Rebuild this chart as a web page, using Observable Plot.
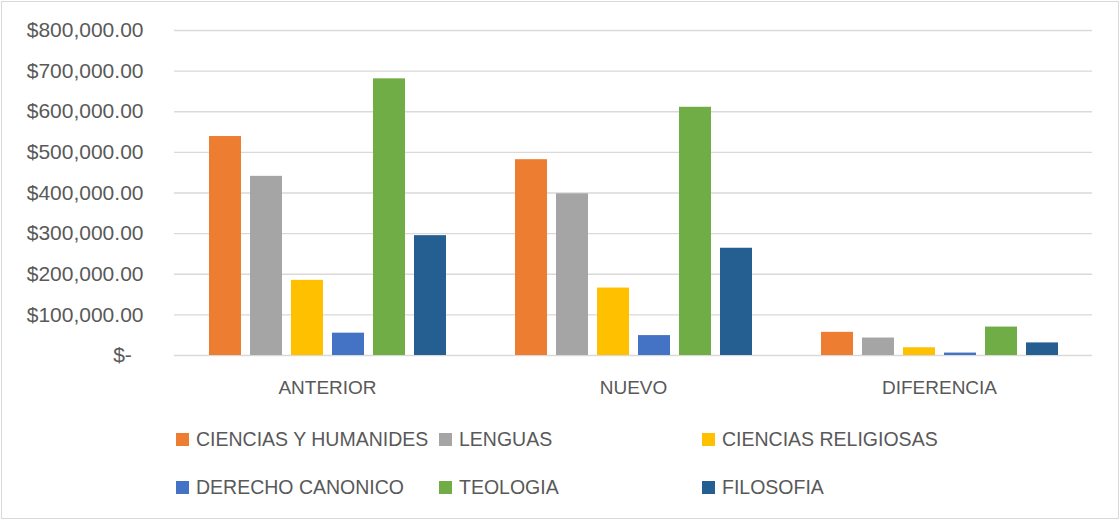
<!DOCTYPE html>
<html>
<head>
<meta charset="utf-8">
<script src="https://cdn.jsdelivr.net/npm/d3@7"></script>
<script src="https://cdn.jsdelivr.net/npm/@observablehq/plot@0.6"></script>
<style>
  html, body { margin: 0; padding: 0; background: #fff; }
  #wrap { position: relative; width: 1120px; height: 520px; overflow: hidden; font-family: "Liberation Sans", Arial, sans-serif; }
  #frame { position: absolute; left: 1px; top: 1px; width: 1116px; height: 516px; border: 1px solid #d9d9d9; pointer-events: none; }
  #chart { position: absolute; left: 0; top: 0; }
  #legend { position: absolute; left: 176px; top: 426px; width: 800px; display: flex; flex-wrap: wrap; row-gap: 21px; }
  .item { width: 263px; display: flex; align-items: center; height: 27px; font-size: 19.5px; color: #595959; white-space: nowrap; }
  .sw { width: 13px; height: 13px; margin-right: 7px; flex: none; }
</style>
</head>
<body>
<div id="wrap">
  <div id="chart"></div>
  <div id="legend"></div>
  <div id="frame"></div>
</div>
<script>
const categories = ["ANTERIOR", "NUEVO", "DIFERENCIA"];
const series = ["CIENCIAS Y HUMANIDES", "LENGUAS", "CIENCIAS RELIGIOSAS", "DERECHO CANONICO", "TEOLOGIA", "FILOSOFIA"];
const colors = ["#ED7D31", "#A5A5A5", "#FFC000", "#4472C4", "#70AD47", "#255E91"];
const anterior = [539000, 441000, 185000, 55000, 681000, 295000];
const nuevo = [482000, 398000, 166000, 49000, 611000, 264000];
const diferencia = [57000, 43000, 19000, 6000, 70000, 31000];
const yTicks = [0, 100000, 200000, 300000, 400000, 500000, 600000, 700000, 800000];

const byCategory = [anterior, nuevo, diferencia];
const data = categories.flatMap((c, i) => series.map((s, j) => ({cat: c, serie: s, value: byCategory[i][j]})));

const fmt = d3.format(",.2f");
const tickFormat = d => d === 0 ? "$-\u00a0\u00a0" : "$" + fmt(d);

const chart = Plot.plot({
  width: 1120,
  height: 410,
  marginLeft: 173,
  marginRight: 28,
  marginTop: 30,
  marginBottom: 55,
  style: {fontFamily: "'Liberation Sans', Arial, sans-serif", color: "#595959", background: "transparent", overflow: "visible"},
  fx: {domain: categories, padding: 0, label: null, axis: null},
  x: {domain: series, axis: null, paddingInner: 0.22, paddingOuter: 0.84},
  y: {domain: [0, 800000], axis: null},
  color: {domain: series, range: colors},
  marks: [
    Plot.gridY(yTicks, {stroke: "#d9d9d9", strokeOpacity: 1, strokeWidth: 1.3}),
    Plot.barY(data, {fx: "cat", x: "serie", y: "value", fill: "serie"}),
    Plot.axisY(yTicks, {tickSize: 0, tickPadding: 31, tickFormat, label: null, fontSize: 21, fill: "#595959"}),
    Plot.axisFx({anchor: "bottom", tickSize: 0, tickPadding: 25, label: null, fontSize: 19, fill: "#595959"})
  ]
});
document.getElementById("chart").appendChild(chart);

const legend = document.getElementById("legend");
series.forEach((s, i) => {
  const item = document.createElement("div");
  item.className = "item";
  const sw = document.createElement("span");
  sw.className = "sw";
  sw.style.background = colors[i];
  const tx = document.createElement("span");
  tx.textContent = s;
  item.appendChild(sw);
  item.appendChild(tx);
  legend.appendChild(item);
});
</script>
</body>
</html>
